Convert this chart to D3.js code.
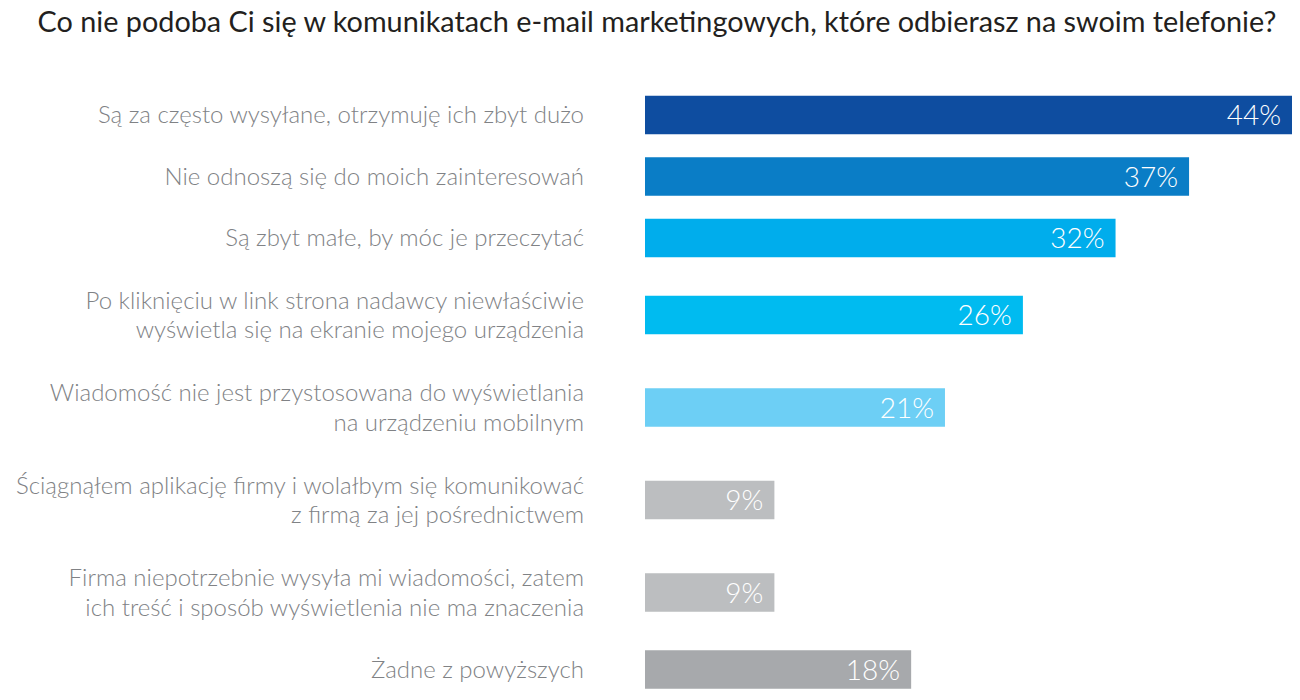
<!DOCTYPE html>
<html><head><meta charset="utf-8">
<script src="https://cdn.jsdelivr.net/npm/d3@7/dist/d3.min.js"></script>
<style>body{margin:0;background:#fff;}svg{display:block;font-family:Lato,"Open Sans",sans-serif;}</style>
</head><body>
<svg id="chart" width="1300" height="700"></svg>
<script>
const title = "Co nie podoba Ci się w komunikatach e-mail marketingowych, które odbierasz na swoim telefonie?";
const categories = [
  ["Są za często wysyłane, otrzymuję ich zbyt dużo"],
  ["Nie odnoszą się do moich zainteresowań"],
  ["Są zbyt małe, by móc je przeczytać"],
  ["Po kliknięciu w link strona nadawcy niewłaściwie", "wyświetla się na ekranie mojego urządzenia"],
  ["Wiadomość nie jest przystosowana do wyświetlania", "na urządzeniu mobilnym"],
  ["Ściągnąłem aplikację firmy i wolałbym się komunikować", "z firmą za jej pośrednictwem"],
  ["Firma niepotrzebnie wysyła mi wiadomości, zatem", "ich treść i sposób wyświetlenia nie ma znaczenia"],
  ["Żadne z powyższych"]
];
const values = [44, 37, 32, 25.7, 20.4, 8.8, 8.8, 18.1];
const valueLabels = ["44%", "37%", "32%", "26%", "21%", "9%", "9%", "18%"];
const colors = ["#0e4da0", "#0a7dc6", "#00adec", "#00bbf0", "#6dcff5", "#bcbec0", "#bcbec0", "#a7a9ac"];

const svg = d3.select("#chart");

const rowUnit = categories.map(c => 30.5 + 31 * c.length);
const offsets = [];
let acc = 0;
rowUnit.forEach(u => { offsets.push(acc + u / 2); acc += u; });
const y = d3.scaleLinear().domain([0, acc]).range([84.25, 84.25 + acc]);
const x = d3.scaleLinear().domain([0, 44]).range([645, 1292]);
const barH = 38.5;

svg.append("text")
  .attr("x", 657).attr("y", 22).attr("dy", "0.35em")
  .attr("text-anchor", "middle")
  .attr("font-size", 28.8).attr("font-weight", 400).attr("fill", "#231f20")
  .text(title);

const rows = svg.append("g").selectAll("g").data(categories).join("g");

rows.append("rect")
  .attr("x", x(0))
  .attr("y", (d, i) => y(offsets[i]) - barH / 2)
  .attr("width", (d, i) => x(values[i]) - x(0))
  .attr("height", barH)
  .attr("fill", (d, i) => colors[i]);

rows.append("text")
  .attr("x", (d, i) => x(values[i]) - 11)
  .attr("y", (d, i) => y(offsets[i]))
  .attr("dy", "0.37em")
  .attr("text-anchor", "end")
  .attr("font-size", 28).attr("font-weight", 300)
  .attr("fill", "#fff")
  .text((d, i) => valueLabels[i]);

const lineH = 29.5;
rows.each(function (d, i) {
  const g = d3.select(this);
  const cy = y(offsets[i]);
  const n = d.length;
  d.forEach((line, j) => {
    g.append("text")
      .attr("x", 584)
      .attr("y", cy + (j - (n - 1) / 2) * lineH)
      .attr("dy", "0.35em")
      .attr("text-anchor", "end")
      .attr("font-size", 24).attr("font-weight", 300)
      .attr("fill", "#808285")
      .text(line);
  });
});
</script>
</body></html>
